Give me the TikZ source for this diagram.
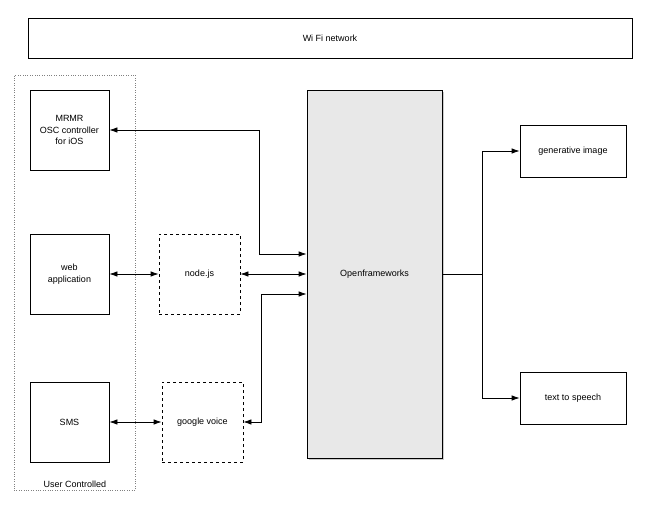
\documentclass[tikz,border=0pt]{standalone}
\usepackage{fontspec}
\setmainfont{Liberation Sans}
\usetikzlibrary{arrows.meta,shadows}
\begin{document}
\begin{tikzpicture}[x=1pt,y=-1pt,
  every node/.style={font=\fontsize{9}{11.5}\selectfont,align=center},
  box/.style={draw,line width=0.8pt,minimum width=#1},
  ar/.style={-{Latex[length=8pt,width=5.5pt]},line width=0.8pt},
  bar/.style={{Latex[length=8pt,width=5.5pt]}-{Latex[length=8pt,width=5.5pt]},line width=0.8pt}]
\useasboundingbox (0,0) rectangle (650,511);
\node[draw,line width=0.7pt,minimum width=604pt,minimum height=40pt] (wifi) at (330,38) {Wi Fi network};
\node[draw,dotted,gray,minimum width=121pt,minimum height=415pt] (uc) at (74.5,282.5) {};
\node at (75,484) {User Controlled};
\node[box=79pt,minimum height=80pt] (mrmr) at (69.5,130) {MRMR\\OSC controller\\for iOS};
\node[box=79pt,minimum height=80pt] (web) at (69.5,274) {web\\application};
\node[box=79pt,minimum height=80pt] (sms) at (69.5,422) {SMS};
\node[box=81pt,dashed,minimum height=80pt] (node) at (199.5,274) {node.js};
\node[box=81pt,dashed,minimum height=80pt] (gv) at (202.5,422) {google voice};
\node[box=135pt,minimum height=368pt,fill=black!9,drop shadow={shadow xshift=1.5pt,shadow yshift=-1.5pt,opacity=0.4}] (of) at (374.5,274) {Openframeworks};
\node[box=106pt,minimum height=52pt] (gen) at (573,151) {generative image};
\node[box=106pt,minimum height=52pt] (tts) at (573,398) {text to speech};
\coordinate (a1) at (259,130);
\coordinate (a2) at (259,254);
\coordinate (b1) at (261,294);
\coordinate (b2) at (261,422);
\coordinate (s) at (482,274);
\coordinate (s1) at (482,151);
\coordinate (s2) at (482,398);
\draw[bar] (mrmr.east|-a1) -- (a1) -- (a2) -- (of.west|-a2);
\draw[bar] (web.east) -- (node.west);
\draw[bar] (node.east) -- (of.west);
\draw[bar] (gv.east) -- (b2) -- (b1) -- (of.west|-b1);
\draw[bar] (sms.east) -- (gv.west);
\draw[line width=0.8pt] (of.east) -- (s);
\draw[ar] (s) -- (s1) -- (gen.west);
\draw[ar] (s) -- (s2) -- (tts.west);
\end{tikzpicture}
\end{document}
